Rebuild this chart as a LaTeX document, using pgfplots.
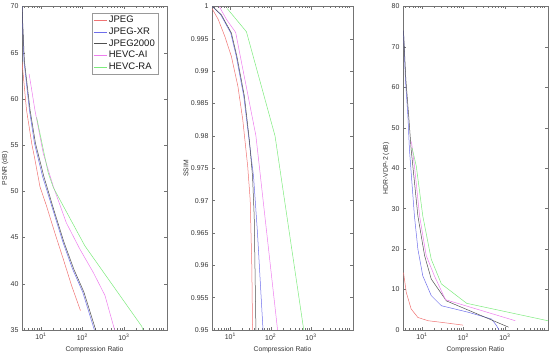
\documentclass[border=0pt]{standalone}
\usepackage{fontspec}
\setmainfont{Liberation Sans}
\usepackage{pgfplots}
\pgfplotsset{compat=1.18}
\definecolor{cR}{RGB}{240,115,115}
\definecolor{cB}{RGB}{110,110,235}
\definecolor{cK}{RGB}{80,80,80}
\definecolor{cM}{RGB}{238,125,238}
\definecolor{cG}{RGB}{125,235,125}
\pgfplotsset{
  every axis/.append style={
    xmode=log, scale only axis, anchor=south west,
    xmin=3.5, xmax=11000,
    xtick={10,100,1000},
    xticklabels={10\textsuperscript{1},10\textsuperscript{2},10\textsuperscript{3}},
    minor xtick={4,5,6,7,8,9,20,30,40,50,60,70,80,90,200,300,400,500,600,700,800,900,2000,3000,4000,5000,6000,7000,8000,9000},
    tick align=inside,
    major tick length=3pt, minor tick length=1.6pt,
    axis line style={black!55, line width=0.4pt},
    tick style={black!55, line width=0.4pt},
    tick label style={font=\fontsize{7}{8}\selectfont, text=black!80},
    label style={font=\fontsize{6.8}{7.8}\selectfont, text=black!80},
    xlabel={Compression Ratio},
    /pgf/number format/assume math mode=true,
    scaled y ticks=false,
    clip=true,
  },
  every axis plot/.append style={line width=0.5pt, mark=none},
}
\begin{document}
\begin{tikzpicture}
\path[use as bounding box] (0,0) rectangle (550pt,356pt);
% ---------------- PSNR ----------------
\begin{axis}[at={(22pt,26pt)}, width=145pt, height=323.5pt,
  ymin=35, ymax=70, ytick={35,40,...,70},
  ylabel={PSNR (dB)},
  ylabel style={at={([xshift=-17pt]rel axis cs:0,0.5)}, anchor=center},
  legend style={at={(rel axis cs:0.938,0.98)}, anchor=north east,
    draw=black!40, fill=white, font=\fontsize{9.5}{11}\selectfont,
    inner sep=1pt, row sep=-0.5pt, text=black!90},
  legend cell align=left,
  legend image code/.code={\draw[#1] (0cm,0cm) -- (0.45cm,0cm);}]
\addplot[cR] coordinates {(3.5,64) (4.5,58.8) (6.0,55.2) (7.2,53.4) (9.5,50.5) (13.7,48.4) (21.7,45.5) (34.5,42.7) (55,39.8) (90,37.1)};
\addplot[cB] coordinates {(3.5,70) (3.9,64.1) (5.3,58.75) (7.0,55.2) (11,51.6) (19.5,48) (34,44.5) (58,41.6) (102,39.1) (195,35)};
\addplot[cK] coordinates {(3.5,70) (4.0,64.1) (5.5,58.75) (7.4,55.2) (11.8,51.6) (20.5,48) (36,44.5) (62,41.6) (109,39.1) (210,35)};
\addplot[cM] coordinates {(5.2,62.7) (7.2,58.75) (11.4,54.1) (20,50.5) (41,46.6) (87,43.75) (182,41.25) (350,38.75) (600,35)};
\addplot[cG] coordinates {(7.9,58) (10.4,55.4) (15,52) (20,50.4) (115,44.1) (2700,35.4) (2900,35)};
\legend{JPEG,JPEG-XR,JPEG2000,HEVC-AI,HEVC-RA}
\end{axis}
% ---------------- SSIM ----------------
\begin{axis}[at={(212pt,26pt)}, width=141pt, height=323.5pt,
  ymin=0.95, ymax=1,
  ytick={0.95,0.955,0.96,0.965,0.97,0.975,0.98,0.985,0.99,0.995,1},
  yticklabels={0.95,0.955,0.96,0.965,0.97,0.975,0.98,0.985,0.99,0.995,1},
  ylabel={SSIM},
  ylabel style={at={([xshift=-26pt]rel axis cs:0,0.5)}, anchor=center}]
\addplot[cR] coordinates {(3.5,0.9997) (5,0.998) (7.3,0.99536) (10.6,0.99227) (15.4,0.98763) (20.3,0.98247) (26.9,0.97526) (31,0.9701) (34,0.9598) (35.5,0.95)};
\addplot[cB] coordinates {(3.6,1) (5.8,0.9987) (10.2,0.9959) (14,0.9923) (21.5,0.9861) (29,0.9794) (37.6,0.9737) (47,0.965) (64.5,0.95)};
\addplot[cK] coordinates {(3.6,1) (6,0.9987) (10.6,0.9959) (14.5,0.9923) (22.3,0.9861) (29.5,0.9794) (35.5,0.9737) (39,0.9675) (43,0.95)};
\addplot[cM] coordinates {(5.3,1) (8,0.998) (13.5,0.996) (43,0.980) (148,0.95)};
\addplot[cG] coordinates {(8.3,0.9997) (25,0.9961) (128,0.980) (660,0.95)};
\end{axis}
% ---------------- HDR-VDP-2 ----------------
\begin{axis}[at={(403pt,26pt)}, width=145pt, height=323.5pt,
  ymin=0, ymax=80, ytick={0,10,...,80},
  ylabel={HDR-VDP-2 (dB)},
  ylabel style={at={([xshift=-17pt]rel axis cs:0,0.5)}, anchor=center}]
\addplot[cR] coordinates {(3.6,14.2) (4.2,9.3) (5.5,5.2) (8,3.1) (14,2.3) (35,1.8) (99,1.2)};
\addplot[cB] coordinates {(3.6,74) (4.0,62) (4.6,52.8) (5,44.7) (6.6,28.2) (8,20) (10.5,13.4) (16.8,8.5) (29.5,6) (130,4.4) (480,2.7) (630,1.1) (725,0)};
\addplot[cK] coordinates {(3.6,74) (4.1,62) (4.8,53) (5.5,44.7) (8,28.2) (11.6,18.4) (16.8,12.6) (39,7.2) (1230,0.7)};
\addplot[cM] coordinates {(5.6,46.6) (6.6,40.6) (8.8,28.2) (12.7,18.4) (20,13.4) (37,7.5) (1780,2.3)};
\addplot[cG] coordinates {(5.8,45) (7.3,40.6) (10.5,28.2) (16.8,17.5) (29.5,11.4) (120,6.6) (12000,2.2)};
\end{axis}
\end{tikzpicture}
\end{document}
